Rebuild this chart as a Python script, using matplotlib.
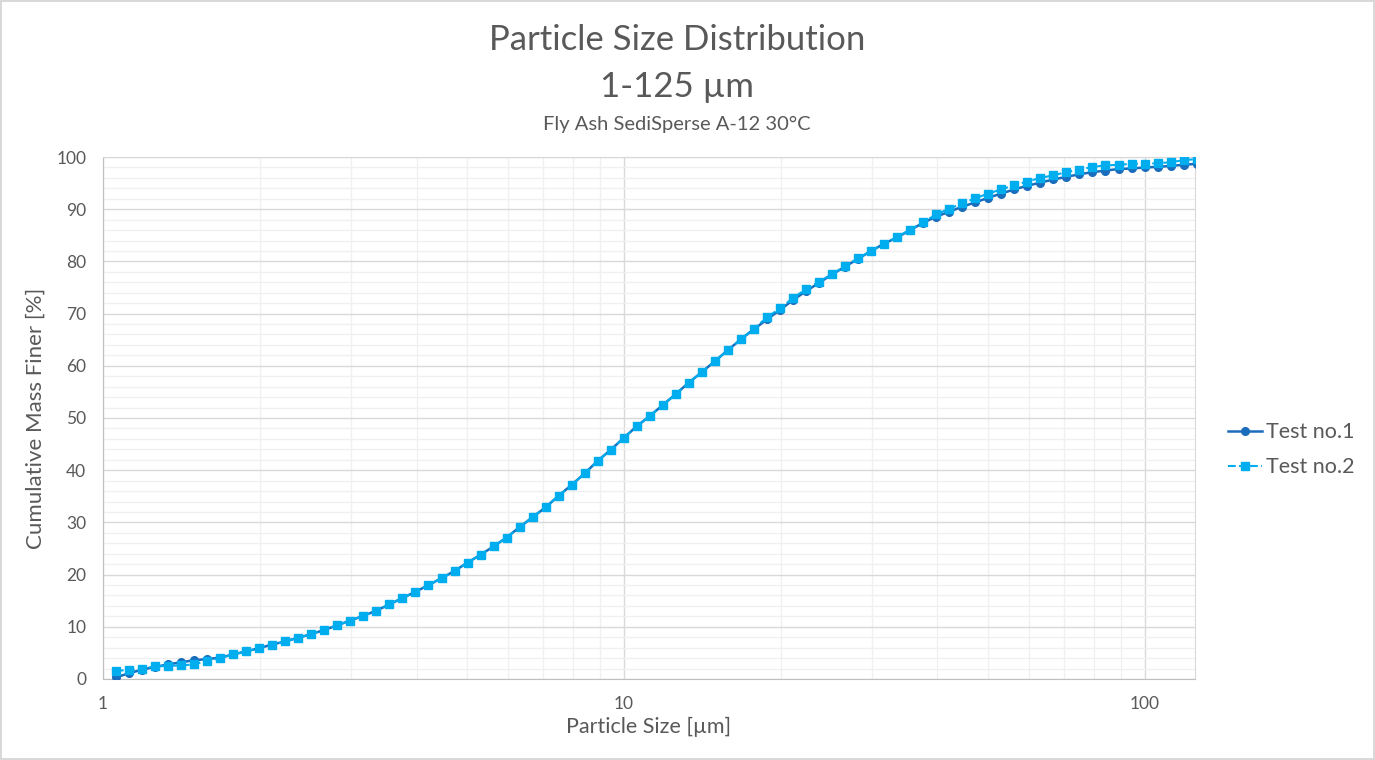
import numpy as np
import matplotlib.pyplot as plt
from matplotlib.ticker import FixedLocator, NullFormatter, MultipleLocator

plt.rcParams['font.family'] = ['Lato', 'DejaVu Sans']

# particle sizes [um]
size = [1.059, 1.122, 1.189, 1.259, 1.334, 1.413, 1.496, 1.585, 1.679, 1.778,
        1.884, 1.995, 2.113, 2.239, 2.371, 2.512, 2.661, 2.818, 2.985, 3.162,
        3.350, 3.548, 3.758, 3.981, 4.217, 4.467, 4.732, 5.012, 5.309, 5.623,
        5.957, 6.310, 6.683, 7.079, 7.499, 7.943, 8.414, 8.913, 9.441, 10.00,
        10.59, 11.22, 11.89, 12.59, 13.34, 14.13, 14.96, 15.85, 16.79, 17.78,
        18.84, 19.95, 21.13, 22.39, 23.71, 25.12, 26.61, 28.18, 29.85, 31.62,
        33.50, 35.48, 37.58, 39.81, 42.17, 44.67, 47.32, 50.12, 53.09, 56.23,
        59.57, 63.10, 66.83, 70.79, 74.99, 79.43, 84.14, 89.13, 94.41, 100.0,
        105.9, 112.2, 118.9, 125.9]

test1 = [0.3, 1.1, 1.8, 2.3, 2.8, 3.2, 3.6, 3.8, 4.1, 4.7,
         5.3, 5.9, 6.6, 7.2, 7.9, 8.6, 9.4, 10.3, 11.2, 12.1,
         13.1, 14.3, 15.5, 16.7, 18.0, 19.3, 20.7, 22.3, 23.8, 25.4,
         27.1, 29.1, 31.0, 32.9, 35.1, 37.2, 39.4, 41.8, 43.9, 46.2,
         48.4, 50.4, 52.5, 54.6, 56.8, 58.8, 60.9, 63.0, 65.1, 67.0,
         68.9, 70.7, 72.6, 74.3, 75.9, 77.5, 79.0, 80.5, 82.0, 83.4,
         84.6, 86.0, 87.4, 88.6, 89.5, 90.5, 91.3, 92.2, 93.0, 93.8,
         94.5, 95.1, 95.7, 96.2, 96.7, 97.1, 97.4, 97.7, 97.8, 98.0,
         98.1, 98.3, 98.5, 98.7]

test2 = [1.6, 1.7, 2.0, 2.4, 2.5, 2.6, 2.8, 3.5, 4.0, 4.7,
         5.3, 5.9, 6.6, 7.2, 7.9, 8.6, 9.4, 10.3, 11.2, 12.1,
         13.1, 14.3, 15.5, 16.7, 18.0, 19.3, 20.7, 22.3, 23.8, 25.4,
         27.1, 29.1, 31.0, 32.9, 35.1, 37.2, 39.4, 41.8, 43.9, 46.2,
         48.4, 50.4, 52.5, 54.6, 56.8, 58.8, 60.9, 63.0, 65.1, 67.1,
         69.3, 71.0, 73.0, 74.7, 76.1, 77.6, 79.1, 80.6, 82.0, 83.4,
         84.7, 86.1, 87.5, 89.0, 90.1, 91.1, 92.1, 93.0, 93.8, 94.6,
         95.3, 96.0, 96.5, 97.1, 97.6, 98.1, 98.4, 98.5, 98.7, 98.7,
         98.8, 99.0, 99.4, 99.6]

c1 = '#1a6cbc'
c2 = '#00aeef'
grey = '#595959'

fig = plt.figure(figsize=(13.75, 7.6), dpi=100)
fig.patch.set_edgecolor('#d9d9d9')
fig.patch.set_linewidth(1.5)
ax = fig.add_axes([0.0749, 0.1066, 0.7942, 0.6868])

ax.plot(size, test1, color=c1, lw=1.8, marker='o', ms=5.5, label='Test no.1', zorder=3)
ax.plot(size, test2, color=c2, lw=1.5, ls='--', marker='s', ms=5.5, label='Test no.2', zorder=4)

ax.set_xscale('log')
ax.set_xlim(1, 125)
ax.set_ylim(0, 100)
ax.xaxis.set_major_locator(FixedLocator([1, 10, 100]))
ax.xaxis.set_minor_locator(FixedLocator([m * d for d in (1, 10, 100) for m in range(2, 10)]))
ax.xaxis.set_minor_formatter(NullFormatter())
ax.set_xticklabels(['1', '10', '100'])
ax.yaxis.set_major_locator(MultipleLocator(10))
ax.yaxis.set_minor_locator(MultipleLocator(2))

ax.grid(which='major', color='#d9d9d9', lw=1)
ax.grid(which='minor', color='#f0f0f0', lw=1)
ax.set_axisbelow(True)
for s in ax.spines.values():
    s.set_color('#d9d9d9')
ax.spines['left'].set_color('#bfbfbf')
ax.spines['bottom'].set_color('#bfbfbf')
ax.tick_params(which='both', length=0, labelsize=12.5, colors=grey)
ax.tick_params(axis='x', pad=12)
ax.tick_params(axis='y', pad=12)

ax.set_xlabel('Particle Size [µm]', fontsize=15.5, color=grey, labelpad=4)
ax.set_ylabel('Cumulative Mass Finer [%]', fontsize=16, color=grey, labelpad=8)

fig.text(0.4924, 1 - 40 / 760, 'Particle Size Distribution', ha='center', va='center', fontsize=25, color=grey)
fig.text(0.4924, 1 - 87 / 760, '1-125 µm', ha='center', va='center', fontsize=25, color=grey)
fig.text(0.4924, 1 - 124 / 760, 'Fly Ash SediSperse A-12 30°C', ha='center', va='center', fontsize=14.5, color=grey)

leg = fig.legend(loc='center left', bbox_to_anchor=(0.893, 0.408), frameon=False,
                 borderpad=0, borderaxespad=0,
                 fontsize=15.5, handlelength=1.6, handletextpad=0.15, labelspacing=0.7)
for t in leg.get_texts():
    t.set_color(grey)

fig.savefig('out.png', dpi=100)
